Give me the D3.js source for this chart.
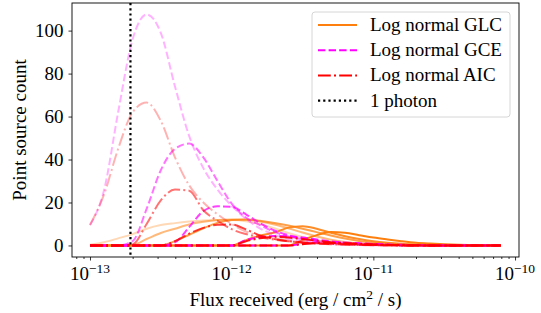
<!DOCTYPE html>
<html>
<head>
<style>
body{ margin:0; background:#fff; }
text{ font-family: "Liberation Serif", serif; }
</style>
<script src="https://d3js.org/d3.v7.min.js"></script>
</head>
<body>
<script>
const w = 541, h = 313;
const m = {l:72, r:22, t:3, b:56};

// flux grid (erg / cm2 / s)
const flux = [1.00e-13,1.26e-13,1.58e-13,2.00e-13,2.51e-13,3.16e-13,3.98e-13,5.01e-13,6.31e-13,7.94e-13,
              1.00e-12,1.26e-12,1.58e-12,2.00e-12,2.51e-12,3.16e-12,3.98e-12,5.01e-12,6.31e-12,7.94e-12,
              1.00e-11,1.26e-11,1.58e-11,2.00e-11,2.51e-11,3.16e-11,3.98e-11,5.01e-11,6.31e-11,7.94e-11];

const glc = [
  [0.3,1.5,3.3,5.3,7.8,9.5,10.4,11.1,11.6,11.8,11.8,11.3,10.0,8.0,5.8,3.9,2.4,1.4,0.8,0.4,0.2,0.1,0,0,0,0,0,0,0,0],
  [0,0,0,0.3,3.0,5.8,7.8,9.8,11.0,11.8,12.1,12.0,11.2,9.8,8.0,6.0,4.2,2.7,1.6,0.9,0.5,0.25,0.1,0,0,0,0,0,0,0],
  [0,0,0,0,0,0,2.0,5.0,8.0,10.5,11.8,12.1,11.5,10.5,9.3,7.8,6.2,4.6,3.2,2.1,1.3,0.8,0.45,0.25,0.1,0,0,0,0,0],
  [0,0,0,0,0,0,0,0,0,0,0,2.5,4.5,6.0,8.3,9.0,7.8,5.9,4.3,3.0,2.0,1.3,0.8,0.45,0.25,0.1,0,0,0,0],
  [0,0,0,0,0,0,0,0,0,0,0,0,0,0,0,2.5,4.8,6.3,5.9,4.8,3.7,2.8,2.0,1.3,0.9,0.6,0.35,0.2,0.1,0.05]
];
const gce = [
  [9.5,26,62,96,107.5,99,74,51,36,26,18.5,12.5,8,5,3,2,1.2,0.7,0.4,0.2,0.1,0,0,0,0,0,0,0,0,0],
  [0,0,0,2,17,35,45,47.4,41,30,19.5,13,9.5,6.3,4.2,3,2,1.3,0.9,0.6,0.4,0.25,0.15,0.1,0,0,0,0,0,0],
  [0,0,0,0,0,0,1.5,8.5,16,18.2,18,14.5,10.5,7,4.8,3.2,2.1,1.4,0.9,0.6,0.4,0.25,0.15,0.1,0,0,0,0,0,0],
  [0,0,0,0,0,0,0,0,0,0,0,2.5,3.8,4.4,4.3,3.7,2.8,1.9,1.3,0.8,0.5,0.3,0.15,0.1,0,0,0,0,0,0],
  [0,0,0,0,0,0,0,0,0,0,0,0,0,0,0,0.8,1.4,1.5,1.3,1.0,0.7,0.45,0.3,0.2,0.1,0,0,0,0,0]
];
const aic = [
  [9.5,24,45,62,66.5,58,41,28,20,14.5,10,6.5,4.5,3.2,2.2,1.5,1,0.7,0.45,0.3,0.2,0.1,0,0,0,0,0,0,0,0],
  [0,0,0,0.5,10,21,26,25.5,16.4,11.5,7.6,5.3,3.8,2.7,1.9,1.3,0.9,0.6,0.4,0.25,0.15,0.1,0,0,0,0,0,0,0,0],
  [0,0,0,0,0,0,2,5.5,8.2,9.6,9.8,7.5,4.7,3,2,1.4,1,0.7,0.5,0.3,0.2,0.1,0,0,0,0,0,0,0,0],
  [0,0,0,0,0,0,0,0,0,0,0,2,3.3,4,3.7,3,2.2,1.5,1,0.6,0.4,0.2,0.1,0,0,0,0,0,0,0],
  [0,0,0,0,0,0,0,0,0,0,0,0,0,0,0,0.6,1.1,1.2,1.0,0.75,0.5,0.3,0.2,0.1,0,0,0,0,0,0]
];
const alphas = [0.3,0.55,0.75,0.9,1.0];
const onePhoton = 1.93e-13;

const xTicks = [1e-13,1e-12,1e-11,1e-10];
const xTickExp = ["\u221213","\u221212","\u221211","\u221210"];
const yTicks = [0,20,40,60,80,100];

const families = [
  {name:"Log normal GLC", color:"#ff7f0e", dash:null, data:glc},
  {name:"Log normal GCE", color:"#ff00ff", dash:"7.4,3.2", data:gce},
  {name:"Log normal AIC", color:"#ff0000", dash:"12.8,3.2,2,3.2", data:aic}
];

const svg = d3.select("body").append("svg")
    .attr("width", w).attr("height", h);

const x = d3.scaleLog()
    .domain([Math.pow(10,-13.127), Math.pow(10,-9.972)])
    .range([m.l, w - m.r]);
const y = d3.scaleLinear()
    .domain([-5.37, 112.85])
    .range([h - m.b, m.t]);

const plot = svg.append("g");

const line = d3.line()
    .x((d,i) => x(flux[i]))
    .y(d => y(d))
    .curve(d3.curveMonotoneX);

families.forEach(f => {
  f.data.forEach((s,k) => {
    plot.append("path")
      .attr("d", line(s))
      .attr("fill","none")
      .attr("stroke", f.color)
      .attr("stroke-opacity", alphas[k])
      .attr("stroke-width", 2)
      .attr("stroke-dasharray", f.dash);
  });
});

plot.append("line")
  .attr("x1", x(onePhoton)).attr("x2", x(onePhoton))
  .attr("y1", m.t).attr("y2", h - m.b)
  .attr("stroke","#000").attr("stroke-width",2.2)
  .attr("stroke-dasharray","2.2,3");

// axes
const xAxis = d3.axisBottom(x).tickValues(xTicks).tickSize(3.5).tickFormat("");
const minor = [];
for (let e = -14; e <= -10; e++) for (let k = 2; k <= 9; k++) minor.push(k*Math.pow(10,e));
const xMinor = d3.axisBottom(x)
    .tickValues(minor.filter(v => v >= x.domain()[0] && v <= x.domain()[1]))
    .tickSize(2).tickFormat("");
const gx = svg.append("g").attr("transform", `translate(0,${h - m.b})`).call(xAxis);
const gxm = svg.append("g").attr("transform", `translate(0,${h - m.b})`).call(xMinor);
[gx,gxm].forEach(g => { g.select(".domain").remove(); g.selectAll("line").attr("stroke","#000").attr("stroke-width",0.8); });

const gy = svg.append("g").attr("transform", `translate(${m.l},0)`)
    .call(d3.axisLeft(y).tickValues(yTicks).tickSize(3.5).tickPadding(5));
gy.select(".domain").remove();
gy.selectAll("line").attr("stroke","#000").attr("stroke-width",0.8);
gy.selectAll("text").attr("font-family","Liberation Serif").attr("font-size",19).attr("fill","#000");

xTicks.forEach((t,i) => {
  const tx = svg.append("text")
    .attr("x", x(t)).attr("y", 280)
    .attr("text-anchor","middle")
    .attr("font-size",19);
  tx.append("tspan").text("10");
  tx.append("tspan").attr("dy",-7).attr("font-size",13.5).text(xTickExp[i]);
});

svg.append("rect")
  .attr("x", m.l).attr("y", m.t)
  .attr("width", w - m.l - m.r).attr("height", h - m.t - m.b)
  .attr("fill","none").attr("stroke","#000").attr("stroke-width",0.9);

const xl = svg.append("text")
  .attr("x", (m.l + w - m.r)/2).attr("y", 306)
  .attr("text-anchor","middle").attr("font-size",19);
xl.append("tspan").text("Flux received (erg / cm");
xl.append("tspan").attr("dy",-7).attr("font-size",13.5).text("2");
xl.append("tspan").attr("dy",7).text(" / s)");

svg.append("text")
  .attr("transform", `translate(26,${(m.t + h - m.b)/2}) rotate(-90)`)
  .attr("text-anchor","middle").attr("font-size",19)
  .text("Point source count");

// legend
const leg = svg.append("g");
leg.append("rect")
  .attr("x",312).attr("y",12).attr("width",198).attr("height",105).attr("rx",3)
  .attr("fill","#fff").attr("fill-opacity",0.8)
  .attr("stroke","#ccc").attr("stroke-width",0.8);
const legItems = families.map(f => ({name:f.name, color:f.color, dash:f.dash}))
  .concat([{name:"1 photon", color:"#000", dash:"2.2,3"}]);
legItems.forEach((d,i) => {
  const yy = 25 + i*25.2;
  leg.append("line")
    .attr("x1",318).attr("x2",357).attr("y1",yy).attr("y2",yy)
    .attr("stroke",d.color).attr("stroke-width",i==3?2.2:2)
    .attr("stroke-dasharray",d.dash);
  leg.append("text")
    .attr("x",370).attr("y",yy+6)
    .attr("font-size",19).text(d.name);
});
</script>
</body>
</html>
